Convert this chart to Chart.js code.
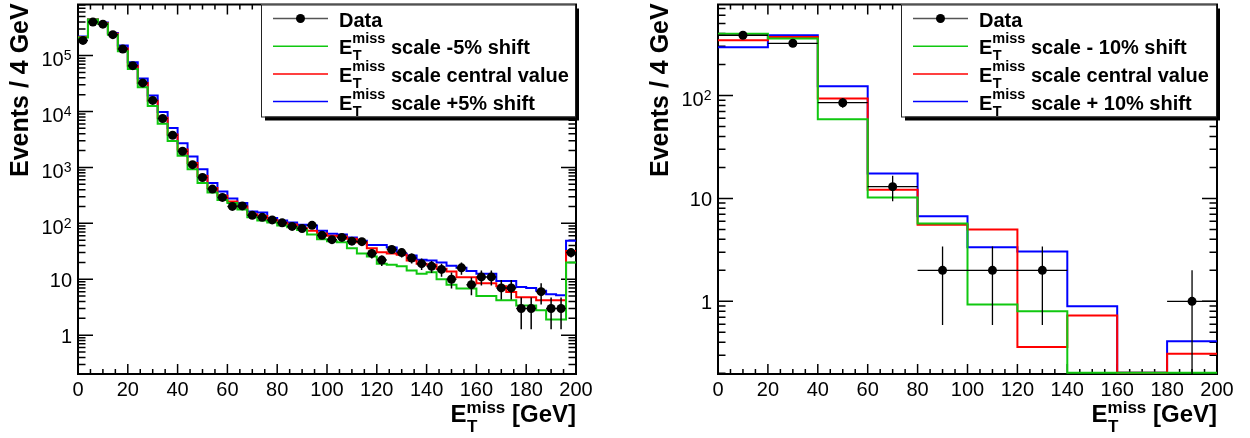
<!DOCTYPE html>
<html>
<head>
<meta charset="utf-8">
<script src="https://cdn.jsdelivr.net/npm/chart.js@4.4.1/dist/chart.umd.min.js"></script>
<style>
  html, body { margin: 0; padding: 0; background: #fff; }
  canvas { position: absolute; top: 0; }
  #left { left: 0; }
  #right { left: 625px; }
</style>
</head>
<body>
<canvas id="left" width="625" height="438"></canvas>
<canvas id="right" width="625" height="438"></canvas>
<script>
// ---- left panel: 4 GeV bins ----
const leftBinLow = [0, 4, 8, 12, 16, 20, 24, 28, 32, 36, 40, 44, 48, 52, 56, 60, 64, 68, 72, 76,
                    80, 84, 88, 92, 96, 100, 104, 108, 112, 116, 120, 124, 128, 132, 136, 140, 144, 148, 152, 156,
                    160, 164, 168, 172, 176, 180, 184, 188, 192, 196];
const leftData = [187000, 397000, 365000, 237000, 131000, 66000, 32500, 15800, 7500, 3760,
                  1950, 1120, 660, 410, 291, 201, 205, 139, 128, 115,
                  102, 88, 81, 92, 61, 51, 56, 48, 47, 29,
                  22, 34, 30, 24, 19, 17, 15, 10, 16, 8,
                  11, 11, 7, 7, 3, 3, 6, 3, 3, 30];
const leftDataErr = [432, 630, 604, 487, 362, 257, 180, 126, 87, 61,
                     44, 33.5, 25.7, 20.2, 17.1, 14.2, 14.3, 11.8, 11.3, 10.7,
                     10.1, 9.4, 9, 9.6, 7.8, 7.1, 7.5, 6.9, 6.9, 5.4,
                     4.7, 5.8, 5.5, 4.9, 4.4, 4.1, 3.9, 3.2, 4, 2.8,
                     3.3, 3.3, 2.65, 2.65, 1.73, 1.73, 2.45, 1.73, 1.73, 5.5];
const leftMinus5 = [210000, 440000, 370000, 237000, 119000, 57700, 27200, 12500, 6050, 2970,
                    1610, 932, 525, 357, 261, 231, 176, 128, 112, 104,
                    91, 85, 76, 63, 52, 48, 46, 36, 29, 25.5,
                    19, 18.2, 17, 14.4, 12.6, 13.4, 10, 8, 6.8, 6.8,
                    5.0, 5.0, 4.2, 4.2, 3.4, 3.4, 2.8, 1.9, 1.9, 20];
const leftCentral = [215000, 440000, 380000, 245000, 134000, 66000, 32500, 15600, 7700, 3880,
                     2090, 1200, 700, 430, 310, 247, 200, 145, 135, 115,
                     102, 95, 82, 74, 66, 60, 58, 53, 46, 36,
                     30.5, 29, 27.4, 21.7, 18.9, 18.2, 15.4, 13.8, 10.9, 10.9,
                     8.5, 8.5, 7.5, 5.9, 4.75, 4.75, 4.2, 4.2, 4.2, 32];
const leftPlus5 = [220000, 440000, 390000, 253000, 151000, 76000, 38900, 19400, 9770, 5070,
                   2710, 1560, 932, 525, 372, 279, 231, 162, 157, 125,
                   112, 104, 94, 91, 74, 65, 63, 56, 49, 41,
                   41, 37, 28.5, 26.6, 22.3, 21.7, 20, 17.5, 16, 14,
                   12.6, 12.6, 9.3, 9.3, 7.3, 7.0, 6.2, 5.4, 5.2, 49];
const leftYTicks = [1, 10, 100, 1000, 10000, 100000];
const leftYLabels = [['1', ''], ['10', ''], ['10', '2'], ['10', '3'], ['10', '4'], ['10', '5']];
const leftLegend = ['Data', ' scale -5% shift', ' scale central value', ' scale +5% shift'];

// ---- right panel: 20 GeV bins ----
const rightBinLow = [0, 20, 40, 60, 80, 100, 120, 140, 160, 180];
const rightData = [384, 321, 85, 13, 2, 2, 2, 0, 0, 1];
const rightDataErr = [19.6, 17.9, 9.2, 3.6, 1.41, 1.41, 1.41, 0, 0, 1];
const rightMinus10 = [398, 357, 58.6, 10.2, 5.7, 0.93, 0.80, 0, 0, 0];
const rightCentral = [343, 369, 93.5, 12.1, 5.56, 4.98, 0.36, 0.73, 0, 0.31];
const rightPlus10 = [294, 384, 123, 17.4, 6.7, 3.36, 3.05, 0.895, 0, 0.41];
const rightYTicks = [1, 10, 100];
const rightYLabels = [['1', ''], ['10', ''], ['10', '2']];
const rightLegend = ['Data', ' scale - 10% shift', ' scale central value', ' scale + 10% shift'];

const xTickLabels = [0, 20, 40, 60, 80, 100, 120, 140, 160, 180, 200];

const FONT = '"Liberation Sans", Arial, Helvetica, sans-serif';
const GREEN = '#10c810', RED = '#ff0000', BLUE = '#0000ff';

// empty bins sit on the bottom axis (just above it so the line stays visible)
function histPoints(lows, width, vals, floor) {
    const pts = lows.map((x, i) => ({ x, y: Math.max(vals[i], floor) }));
    pts.push({ x: lows[lows.length - 1] + width, y: Math.max(vals[vals.length - 1], floor) });
    return pts;
}

function dataPoints(lows, width, vals) {
    return lows.map((x, i) => ({ x: x + width / 2, y: vals[i] > 0 ? vals[i] : null }));
}

// E_T^miss with sub/superscript; returns x after the superscript
function drawEt(ctx, x, y, size, supSize, supDy, subDy) {
    ctx.textAlign = 'left';
    ctx.font = 'bold ' + size + 'px ' + FONT;
    ctx.fillText('E', x, y);
    const w = ctx.measureText('E').width;
    ctx.font = 'bold ' + supSize + 'px ' + FONT;
    ctx.fillText('miss', x + w, y + supDy);
    ctx.fillText('T', x + w + 0.5, y + subDy);
    return x + w + ctx.measureText('miss').width;
}

function makePlugin(cfg) {
    return {
        id: 'rootStyle',
        beforeDatasetsDraw(chart) {
            const { ctx, chartArea: a, scales: { x, y } } = chart;
            ctx.save();
            ctx.strokeStyle = '#000';

            // tick marks
            ctx.lineWidth = 1.5;
            ctx.beginPath();
            for (let v = 0; v <= 200; v += 5) {
                const px = x.getPixelForValue(v);
                const len = v % 20 === 0 ? 10 : 5;
                ctx.moveTo(px, a.bottom); ctx.lineTo(px, a.bottom - len);
                ctx.moveTo(px, a.top); ctx.lineTo(px, a.top + len);
            }
            for (let e = -1; e <= 6; e++) {
                for (let m = 1; m <= 9; m++) {
                    const v = m * Math.pow(10, e);
                    if (v <= y.min || v > y.max) continue;
                    const py = y.getPixelForValue(v);
                    const len = m === 1 ? 15 : 7.5;
                    ctx.moveTo(a.left, py); ctx.lineTo(a.left + len, py);
                    ctx.moveTo(a.right, py); ctx.lineTo(a.right - len, py);
                }
            }
            ctx.stroke();

            // frame
            ctx.lineWidth = 2;
            ctx.strokeRect(a.left, a.top, a.right - a.left, a.bottom - a.top);
            ctx.restore();
        },
        afterDatasetsDraw(chart) {
            const { ctx, scales: { x, y } } = chart;
            ctx.save();
            ctx.strokeStyle = '#000';
            ctx.lineWidth = cfg.errWidth;
            ctx.beginPath();
            cfg.data.forEach((v, i) => {
                if (!v) return;
                const lo = cfg.lows[i];
                const cx = x.getPixelForValue(lo + cfg.width / 2);
                const py = y.getPixelForValue(v);
                const top = y.getPixelForValue(v + cfg.err[i]);
                const bot = v - cfg.err[i] > y.min ? y.getPixelForValue(v - cfg.err[i]) : y.bottom;
                ctx.moveTo(cx, top); ctx.lineTo(cx, bot);
                ctx.moveTo(x.getPixelForValue(lo), py); ctx.lineTo(x.getPixelForValue(lo + cfg.width), py);
            });
            ctx.stroke();
            ctx.restore();
        },
        afterDraw(chart) {
            const { ctx, chartArea: a, scales: { x, y } } = chart;
            ctx.save();
            ctx.fillStyle = '#000';

            // x tick labels
            ctx.font = '20px ' + FONT;
            ctx.textAlign = 'center';
            ctx.textBaseline = 'alphabetic';
            xTickLabels.forEach(v => ctx.fillText(String(v), x.getPixelForValue(v), a.bottom + 22));

            // y tick labels
            cfg.yTicks.forEach((v, i) => {
                const py = y.getPixelForValue(v);
                const [base, exp] = cfg.yLabels[i];
                ctx.textAlign = 'right';
                if (!exp) {
                    ctx.font = '20px ' + FONT;
                    ctx.fillText(base, a.left - 6, py + 8);
                } else {
                    ctx.font = '14px ' + FONT;
                    const ew = ctx.measureText(exp).width;
                    ctx.fillText(exp, a.left - 6.5, py + 4.5);
                    ctx.font = '20px ' + FONT;
                    ctx.fillText(base, a.left - 6.5 - ew, py + 10.5);
                }
            });

            // y title
            ctx.save();
            ctx.translate(a.left - 50, 177);
            ctx.rotate(-Math.PI / 2);
            ctx.font = 'bold 25px ' + FONT;
            ctx.textAlign = 'left';
            ctx.fillText('Events / 4 GeV', 0, 0);
            ctx.restore();

            // x title, right aligned to the frame
            ctx.font = 'bold 24px ' + FONT;
            const eW = ctx.measureText('E').width;
            const gW = ctx.measureText(' [GeV]').width;
            ctx.font = 'bold 17px ' + FONT;
            const mW = ctx.measureText('miss').width;
            const tx = a.right - (eW + mW + gW);
            const endX = drawEt(ctx, tx, a.bottom + 48, 24, 17, -9.5, 10);
            ctx.font = 'bold 24px ' + FONT;
            ctx.fillText(' [GeV]', endX, a.bottom + 48);

            // legend
            const lx = a.left + 183, ly = a.top, lw = a.right - 1 - lx, lh = 112;
            ctx.fillRect(lx + 4, ly + 4, lw, lh);
            ctx.fillStyle = '#fff';
            ctx.fillRect(lx, ly, lw, lh);
            ctx.strokeStyle = '#222';
            ctx.lineWidth = 1;
            ctx.strokeRect(lx + 0.5, ly + 0.5, lw, lh);
            const colors = ['#555', GREEN, RED, BLUE];
            cfg.legend.forEach((txt, i) => {
                const ry = ly + 14 + i * 27.7;
                ctx.strokeStyle = colors[i];
                ctx.lineWidth = 1.5;
                ctx.beginPath();
                ctx.moveTo(lx + 12, ry); ctx.lineTo(lx + 67, ry);
                ctx.stroke();
                ctx.fillStyle = '#000';
                if (i === 0) {
                    ctx.beginPath();
                    ctx.arc(lx + 39.5, ry, 4.5, 0, Math.PI * 2);
                    ctx.fill();
                    ctx.font = 'bold 20px ' + FONT;
                    ctx.textAlign = 'left';
                    ctx.fillText(txt, lx + 78, ry + 8);
                } else {
                    const ex = drawEt(ctx, lx + 78, ry + 8, 20, 14.5, -11, 6);
                    ctx.font = 'bold 20px ' + FONT;
                    ctx.fillText(txt, ex, ry + 8);
                }
            });
            ctx.restore();
        }
    };
}

function makeChart(id, cfg) {
    const floor = cfg.yMin * 1.03;
    const hist = (vals, color) => ({
        data: histPoints(cfg.lows, cfg.width, vals, floor),
        borderColor: color, borderWidth: cfg.lineWidth, stepped: true,
        pointRadius: 0, fill: false, clip: false,
        borderCapStyle: 'butt', borderJoinStyle: 'miter'
    });
    return new Chart(document.getElementById(id), {
        type: 'line',
        data: {
            datasets: [
                { data: dataPoints(cfg.lows, cfg.width, cfg.data), showLine: false,
                  pointRadius: 4.5, pointHoverRadius: 4.5, pointBackgroundColor: '#000',
                  pointBorderWidth: 0, clip: false },
                hist(cfg.minus, GREEN),
                hist(cfg.central, RED),
                hist(cfg.plus, BLUE)
            ]
        },
        options: {
            responsive: false,
            animation: false,
            events: [],
            layout: { padding: cfg.padding },
            scales: {
                x: { type: 'linear', min: 0, max: 200, display: false },
                y: { type: 'logarithmic', min: cfg.yMin, max: cfg.yMax, display: false, bounds: 'data' }
            },
            plugins: { legend: { display: false }, tooltip: { enabled: false } }
        },
        plugins: [makePlugin(cfg)]
    });
}

makeChart('left', {
    lows: leftBinLow, width: 4, data: leftData, err: leftDataErr,
    minus: leftMinus5, central: leftCentral, plus: leftPlus5,
    yMin: 0.202, yMax: 8.2e5, yTicks: leftYTicks, yLabels: leftYLabels, legend: leftLegend,
    padding: { left: 78, right: 49, top: 3, bottom: 64 }, lineWidth: 2, errWidth: 1.5
});

makeChart('right', {
    lows: rightBinLow, width: 20, data: rightData, err: rightDataErr,
    minus: rightMinus10, central: rightCentral, plus: rightPlus10,
    yMin: 0.197, yMax: 764, yTicks: rightYTicks, yLabels: rightYLabels, legend: rightLegend,
    padding: { left: 93, right: 33, top: 3, bottom: 64 }, lineWidth: 2, errWidth: 1.3
});
</script>
</body>
</html>
